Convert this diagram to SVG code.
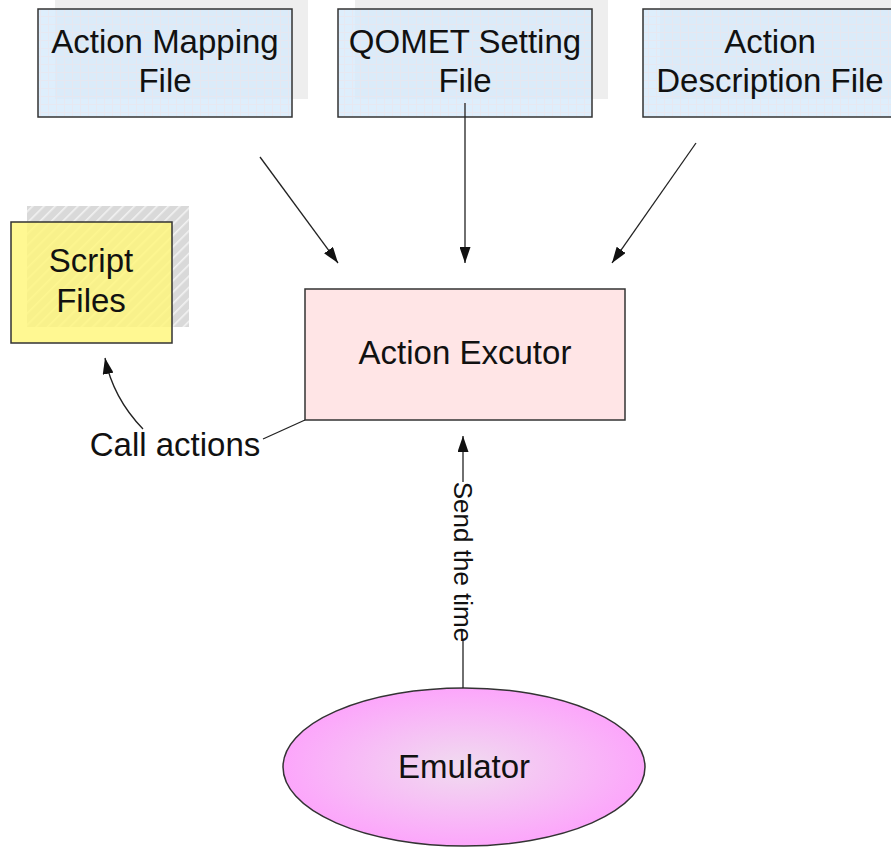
<svg xmlns="http://www.w3.org/2000/svg" width="891" height="847" viewBox="0 0 891 847">
  <defs>
    <style>
      text { font-family: "Liberation Sans", Arial, sans-serif; font-size: 33px; fill: #111; text-anchor: middle; }
      .box { stroke: #333; stroke-width: 1.5; }
      .file { fill: url(#grid); }
      .shadow { fill: #eeeeee; }
      .conn { fill: none; stroke: #222; stroke-width: 1.3; }
    </style>
    <!-- faint grid fill of the file boxes -->
    <pattern id="grid" width="8" height="8" patternUnits="userSpaceOnUse">
      <rect width="8" height="8" fill="#d9ebfc" fill-opacity="0.85"/>
      <path d="M0 0.5H8M0.5 0V8" stroke="#e9e6ee" stroke-width="1" opacity="0.8"/>
    </pattern>
    <!-- hatched shadow behind the script box -->
    <pattern id="hatch" width="8" height="8" patternUnits="userSpaceOnUse" patternTransform="rotate(45)">
      <rect width="8" height="8" fill="#d9d9d9"/>
      <rect x="0" y="0" width="1.6" height="8" fill="#f2f2f2"/>
    </pattern>
    <radialGradient id="emu" cx="0.5" cy="0.5" r="0.5">
      <stop offset="0" stop-color="#f0dcef"/>
      <stop offset="1" stop-color="#fca6fb"/>
    </radialGradient>
    <marker id="arrow" viewBox="0 0 10 10" refX="10" refY="5" markerWidth="10" markerHeight="10" markerUnits="userSpaceOnUse" orient="auto">
      <path d="M0 0L10 5L0 10Z" fill="#111"/>
    </marker>
    <marker id="arrowL" viewBox="0 0 16 11" refX="16" refY="5.5" markerWidth="16" markerHeight="11" markerUnits="userSpaceOnUse" orient="auto">
      <path d="M0 0L16 5.5L0 11Z" fill="#111"/>
    </marker>
  </defs>

  <rect width="891" height="847" fill="#ffffff"/>

  <!-- input files -->
  <g id="action-mapping-file">
    <rect class="shadow" x="55" y="-9" width="253" height="108"/>
    <rect class="box file" x="38" y="9" width="254" height="108"/>
    <text x="165" y="53">Action Mapping</text>
    <text x="165" y="92">File</text>
  </g>
  <g id="qomet-setting-file">
    <rect class="shadow" x="355" y="-9" width="253" height="108"/>
    <rect class="box file" x="338" y="9" width="254" height="108"/>
    <text x="465" y="53">QOMET Setting</text>
    <text x="465" y="92">File</text>
  </g>
  <g id="action-description-file">
    <rect class="shadow" x="660" y="-9" width="253" height="108"/>
    <rect class="box file" x="643" y="9" width="254" height="108"/>
    <text x="770" y="53">Action</text>
    <text x="770" y="92">Description File</text>
  </g>

  <g id="script-files">
    <rect x="27" y="206" width="162" height="121" fill="url(#hatch)"/>
    <rect class="box" x="11" y="222" width="161" height="121" fill="#fff67a" fill-opacity="0.82"/>
    <text x="91" y="272">Script</text>
    <text x="91" y="312">Files</text>
  </g>

  <g id="action-excutor">
    <rect class="box" x="305" y="289" width="320" height="131" fill="#ffe5e6"/>
    <text x="465" y="364">Action Excutor</text>
  </g>

  <g id="emulator">
    <ellipse class="box" cx="464" cy="767" rx="181" ry="79" fill="url(#emu)"/>
    <text x="464" y="778">Emulator</text>
  </g>

  <!-- connectors -->
  <g id="connectors">
    <line class="conn" x1="260" y1="157" x2="338" y2="263" marker-end="url(#arrowL)"/>
    <line class="conn" x1="465" y1="103" x2="465" y2="263" marker-end="url(#arrowL)"/>
    <line class="conn" x1="696" y1="143" x2="612" y2="263" marker-end="url(#arrowL)"/>

    <!-- call actions: executor to script files -->
    <polyline class="conn" points="305,420 263,439"/>
    <path class="conn" d="M143 429Q113 398 105 358" marker-end="url(#arrowL)"/>
    <text x="175" y="456">Call actions</text>

    <!-- send the time: emulator to executor -->
    <line class="conn" x1="463" y1="688" x2="463" y2="641"/>
    <line class="conn" x1="463" y1="482" x2="463" y2="436" marker-end="url(#arrowL)"/>
    <text transform="translate(454 562) rotate(90)" style="font-size:26px">Send the time</text>
  </g>
</svg>
